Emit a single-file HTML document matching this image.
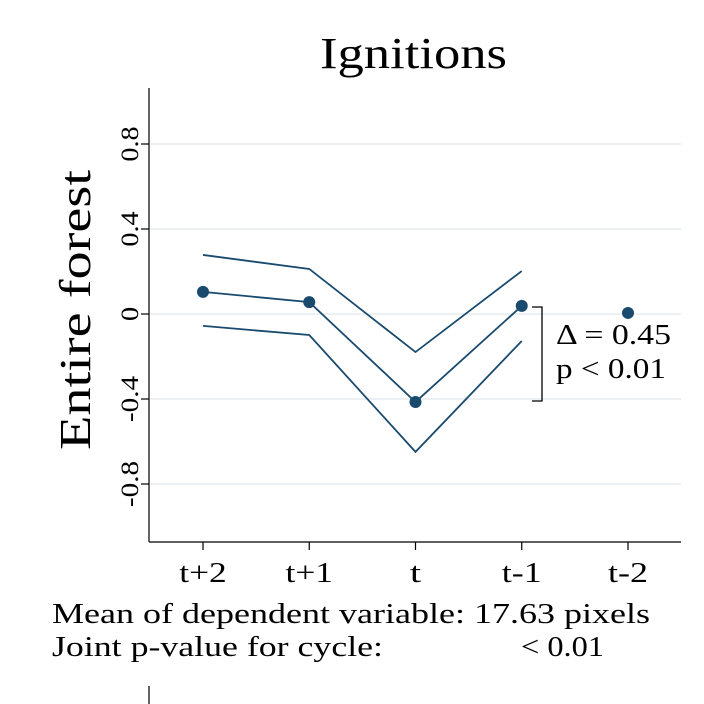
<!DOCTYPE html>
<html><head><meta charset="utf-8"><style>
body{margin:0;background:#fff;}
svg{display:block;font-family:"Liberation Serif",serif;}
</style></head><body>
<svg id="chart" width="704" height="704" viewBox="0 0 704 704">
<rect width="704" height="704" fill="#fff"/>
<text x="320" y="68" font-size="44" textLength="187" lengthAdjust="spacingAndGlyphs">Ignitions</text>
<text transform="translate(90,450) rotate(-90)" font-size="44" textLength="280" lengthAdjust="spacingAndGlyphs">Entire  forest</text>
<g id="grid"></g><g id="yticks"></g><g id="xticks"></g><g id="series"></g>
<line x1="149" y1="88" x2="149" y2="542" stroke="#000" stroke-width="1.2"/>
<line x1="149" y1="542" x2="681" y2="542" stroke="#000" stroke-width="1.2"/>
<path d="M532 307 H542 V401 H532" fill="none" stroke="#000" stroke-width="1.3"/>
<text x="556" y="344" font-size="28" textLength="115" lengthAdjust="spacingAndGlyphs">Δ = 0.45</text>
<text x="556" y="378" font-size="28" textLength="110" lengthAdjust="spacingAndGlyphs">p &lt; 0.01</text>
<text x="52" y="623" font-size="28" textLength="598" lengthAdjust="spacingAndGlyphs">Mean of dependent variable: 17.63 pixels</text>
<text x="52" y="656" font-size="28" textLength="331" lengthAdjust="spacingAndGlyphs">Joint p-value for cycle:</text>
<text x="521" y="656" font-size="28" textLength="83" lengthAdjust="spacingAndGlyphs">&lt; 0.01</text>
<line x1="149" y1="686" x2="149" y2="704" stroke="#000" stroke-width="1.2"/>
</svg>
<script>
const categories=["t+2","t+1","t","t-1","t-2"];
const estimates=[0.104,0.056,-0.414,0.038,0.005];
const upperCI=[0.278,0.212,-0.179,0.202];
const lowerCI=[-0.056,-0.099,-0.649,-0.127];
const yTicks=[0.8,0.4,0,-0.4,-0.8];
const yTickLabels=["0.8","0.4","0","-0.4","-0.8"];
const NS="http://www.w3.org/2000/svg";
function y(v){return 314-v*212.5;}
function x(i){return 203+i*106.25;}
function mk(tag,attrs,parent){const e=document.createElementNS(NS,tag);for(const k in attrs)e.setAttribute(k,attrs[k]);parent.appendChild(e);return e;}
function wid(s){let w=0;for(const ch of s){w+=(ch==='-'?10:ch==='.'?6:ch==='t'?9:ch==='+'?16:13);}return w;}
const grid=document.getElementById('grid'),yt=document.getElementById('yticks'),xt=document.getElementById('xticks'),se=document.getElementById('series');
yTicks.forEach((v,i)=>{
 const g=mk('line',{x1:150,x2:681,y1:y(v),y2:y(v),stroke:"#e6ecef","stroke-width":1.5},grid);
 
 
 const t=mk('line',{x1:141,x2:149,y1:y(v),y2:y(v),stroke:"#000","stroke-width":1.2},yt);
 
 
 const s=yTickLabels[i];
 const l=mk('text',{transform:`translate(138,${y(v)}) rotate(-90)`,"font-size":25,"text-anchor":"middle",textLength:wid(s)*1.1,lengthAdjust:"spacingAndGlyphs"},yt);
 l.textContent=s;
 
 
});
categories.forEach((c,i)=>{
 const t=mk('line',{x1:x(i),x2:x(i),y1:542,y2:550,stroke:"#000","stroke-width":1.2},xt);
 
 
 const l=mk('text',{x:x(i),y:582,"font-size":28,"text-anchor":"middle",textLength:wid(c)*1.25,lengthAdjust:"spacingAndGlyphs"},xt);
 l.textContent=c;
 
 
});
function line(arr,name){
 const p=mk('polyline',{points:arr.map((v,i)=>x(i)+","+y(v)).join(" "),fill:"none",stroke:"#1a4a6e","stroke-width":1.8},se);
 
 
}
line(upperCI,'upper-ci-line');
line(lowerCI,'lower-ci-line');
line(estimates.slice(0,4),'estimate-line');
estimates.forEach((v,i)=>{
 const c=mk('circle',{cx:x(i),cy:y(v),r:6,fill:"#1a4a6e"},se);
 
 
});
</script>
</body></html>
